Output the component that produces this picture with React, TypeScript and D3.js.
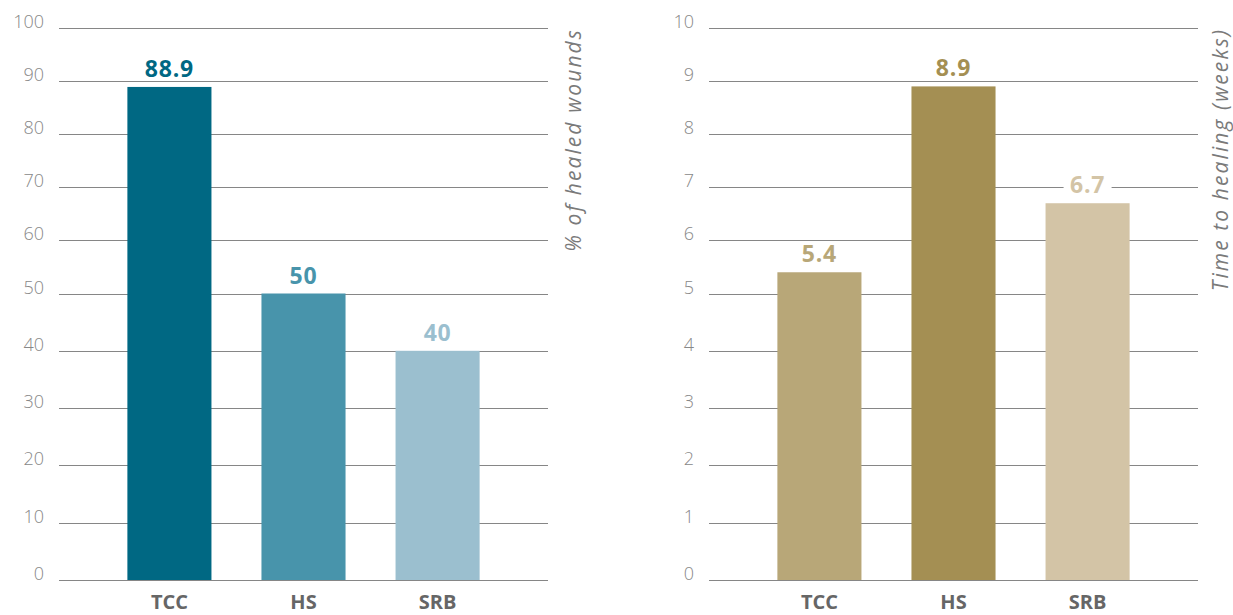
import React from "react";
import * as d3 from "d3";

const categories = ["TCC", "HS", "SRB"];

const healedValues = [88.9, 50, 40];
const healedColors = ["#006883", "#4894ab", "#9bbfcf"];
const healedTicks = [0, 10, 20, 30, 40, 50, 60, 70, 80, 90, 100];

const weeksValues = [5.4, 8.9, 6.7];
const weeksColors = ["#b8a778", "#a48f53", "#d3c4a6"];
const weeksTicks = [0, 1, 2, 3, 4, 5, 6, 7, 8, 9, 10];

const FONT = "'Open Sans', sans-serif";

type PanelProps = {
  values: number[];
  colors: string[];
  ticks: number[];
  max: number;
  left: number;
  right: number;
  title: string;
  titleX: number;
};

function Panel(props: PanelProps) {
  const { values, colors, ticks, max, left, right, title, titleX } = props;

  // the source chart's grid is slightly uneven above/below the midpoint
  const y = d3.scaleLinear()
    .domain([0, max / 2, max])
    .range([580, 293.5, 28]);

  const x = d3.scaleBand()
    .domain(categories)
    .range([left, right])
    .paddingInner(0.373)
    .paddingOuter(0.51);

  return (
    <g>
      {ticks.map(t => (
        <g key={t}>
          <line
            x1={left}
            x2={right}
            y1={Math.round(y(t)) + 0.5}
            y2={Math.round(y(t)) + 0.5}
            stroke="#868686"
            strokeWidth={1.2}
          />
          <text
            x={left - 15}
            y={y(t)}
            textAnchor="end"
            fontFamily={FONT}
            fontWeight={300}
            fontSize={18}
            fill="#888"
          >
            {t}
          </text>
        </g>
      ))}
      {categories.map((c, i) => {
        const bx = x(c) as number;
        const by = y(values[i]);
        const label = String(values[i]);
        const lw = label.length * 12 + 12;
        return (
          <g key={c}>
            <rect
              x={bx}
              y={by}
              width={x.bandwidth()}
              height={y(0) - by}
              fill={colors[i]}
            />
            <rect
              x={bx + x.bandwidth() / 2 - lw / 2}
              y={by - 28}
              width={lw}
              height={20}
              fill="#fff"
            />
            <text
              x={bx + x.bandwidth() / 2}
              y={by - 10}
              textAnchor="middle"
              fontFamily={FONT}
              fontWeight={700}
              fontSize={23}
              letterSpacing={0.8}
              fill={colors[i]}
            >
              {label}
            </text>
            <text
              x={bx + x.bandwidth() / 2}
              y={609}
              textAnchor="middle"
              fontFamily={FONT}
              fontWeight={700}
              fontSize={20}
              fill="#666"
            >
              {c}
            </text>
          </g>
        );
      })}
      <text
        transform={`translate(${titleX},28) rotate(-90)`}
        textAnchor="end"
        fontFamily={FONT}
        fontStyle="italic"
        fontSize={21}
        letterSpacing={2.1}
        fill="#7a7a7a"
      >
        {title}
      </text>
    </g>
  );
}

export default function App() {
  return (
    <svg
      width={1233}
      height={615}
      style={{ position: "absolute", left: 0, top: 0, background: "#fff" }}
    >
      <Panel
        values={healedValues}
        colors={healedColors}
        ticks={healedTicks}
        max={100}
        left={59}
        right={548}
        title="% of healed wounds"
        titleX={581}
      />
      <Panel
        values={weeksValues}
        colors={weeksColors}
        ticks={weeksTicks}
        max={10}
        left={709}
        right={1198}
        title="Time to healing (weeks)"
        titleX={1228}
      />
    </svg>
  );
}
